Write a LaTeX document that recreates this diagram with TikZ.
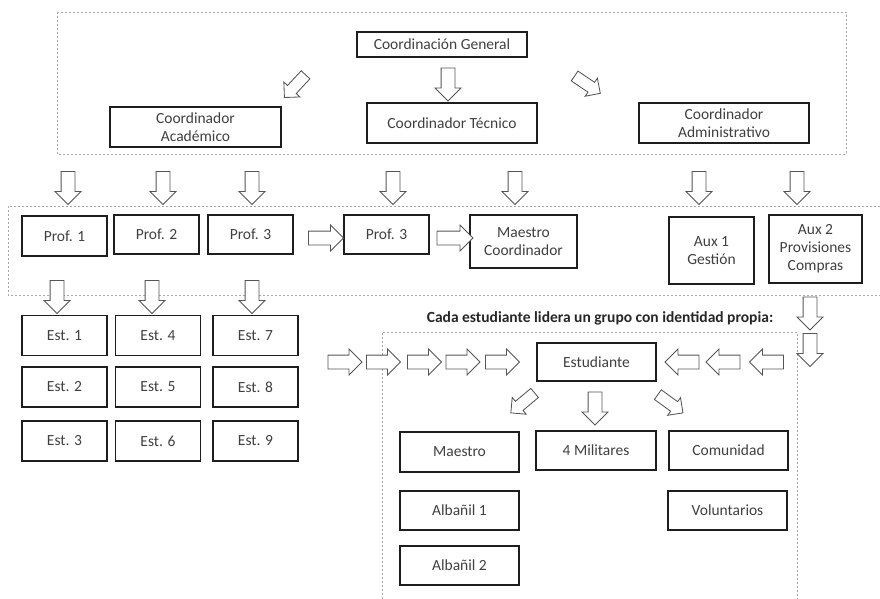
\documentclass[tikz,border=0pt]{standalone}
\usepackage{fontspec}
\setmainfont{Carlito}
\usetikzlibrary{shapes.arrows}
\definecolor{txt}{HTML}{404040}
\definecolor{edge}{HTML}{1E1E1E}
\definecolor{dash}{HTML}{A8A8A8}
\definecolor{arrc}{HTML}{555555}
\begin{document}
\begin{tikzpicture}[x=1pt,y=-1pt,
  box/.style={draw=edge, line width=1.4pt, fill=white, text=txt, align=center,
    font=\fontsize{15.5}{18}\selectfont, inner sep=0pt},
  arr/.style={single arrow, draw=arrc, line width=0.85pt, fill=white,
    inner xsep=0pt, inner ysep=6.5pt, single arrow head extend=6pt,
    minimum height=33pt, outer sep=0pt},
  darr/.style={arr, minimum height=31pt, inner ysep=5.5pt, single arrow head extend=5pt},
  grp/.style={draw=dash, line width=0.7pt, dash pattern=on 2pt off 2pt}
]
\useasboundingbox (0,0) rectangle (880,599);
% group frames
\draw[grp] (57,12) rectangle (846,154);
\draw[grp] (880,206) -- (8,206) -- (8,295) -- (880,295);
\draw[grp] (382,599) -- (382,332) -- (797,332) -- (797,599);

% top level
\node[box, minimum width=170pt, minimum height=25pt] (cg) at (442,44.5) {Coordinación General};
\node[box, minimum width=171pt, minimum height=40pt] (ca) at (195.5,127) {Coordinador\\Académico};
\node[box, minimum width=170pt, minimum height=40pt] (ct) at (452,123) {Coordinador Técnico};
\node[box, minimum width=170pt, minimum height=40pt] (cad) at (724,123) {Coordinador\\Administrativo};

\node[darr, rotate=-133] (a1) at (297,84) {};
\node[arr, rotate=-90] (a2) at (448,81) {};
\node[darr, rotate=-34] (a3) at (585,83) {};

% row 2 arrows
\foreach \x [count=\i] in {68,163,252,393,515,699,797}
  \node[arr, rotate=-90] (d\i) at (\x,184.5) {};

% professors row
\node[box, minimum width=85pt, minimum height=40pt] (p1) at (64.5,236) {Prof. 1};
\node[box, minimum width=85pt, minimum height=39pt] (p2) at (156.5,234.5) {Prof. 2};
\node[box, minimum width=85pt, minimum height=39pt] (p3) at (250.5,234.5) {Prof. 3};
\node[box, minimum width=85pt, minimum height=39pt] (p3b) at (386.5,234.5) {Prof. 3};
\node[box, minimum width=107pt, minimum height=53pt] (mc) at (523.5,241.5) {Maestro\\Coordinador};
\node[box, minimum width=85pt, minimum height=67pt] (aux1) at (711.5,250.5) {Aux 1\\Gestión};
\node[box, minimum width=93pt, minimum height=68pt] (aux2) at (815.5,249) {Aux 2\\Provisiones\\Compras};

\node[arr, minimum height=35pt] (r1) at (322.5,238) {};
\node[arr, minimum height=36pt] (r2) at (451.5,238) {};

% arrows below professors
\foreach \x [count=\i] in {57,152,252}
  \node[arr, rotate=-90] (e\i) at (\x,293.5) {};

% students
\foreach \x [count=\j] in {64.5,158,255.5}{
  \foreach \y [count=\k] in {335.5,387,441}{
    \pgfmathtruncatemacro{\num}{(\j-1)*3+\k}
    \node[box, minimum width=85pt, minimum height=40pt] (s\num) at (\x,\y) {Est. \num};
  }
}

% title
\node[text=black!85, font=\fontsize{15.5}{18}\selectfont\bfseries] (title) at (600,318) {Cada estudiante lidera un grupo con identidad propia:};

% right arrows into student group
\foreach \x [count=\i] in {341.5,380,421,459.5,499}
  \node[arr, minimum height=34pt] (f\i) at (\x,362) {};
% left arrows
\foreach \x [count=\i] in {685.5,726.5,770}
  \node[arr, rotate=180, minimum height=34pt] (g\i) at (\x,362) {};
% down arrows at right
\node[arr, rotate=-90] (h1) at (810,310) {};
\node[arr, rotate=-90] (h2) at (810,346.5) {};

% student group
\node[box, minimum width=119pt, minimum height=38pt] (est) at (596.5,362) {Estudiante};
\node[darr, rotate=-140] (k1) at (525,401) {};
\node[arr, rotate=-90] (k2) at (595,405) {};
\node[darr, rotate=-36] (k3) at (668,402) {};

\node[box, minimum width=119pt, minimum height=40pt] (mae) at (459.5,452) {Maestro};
\node[box, minimum width=120pt, minimum height=39pt] (mil) at (596,450.5) {4 Militares};
\node[box, minimum width=119pt, minimum height=39pt] (com) at (728.5,450.5) {Comunidad};
\node[box, minimum width=119pt, minimum height=39pt] (alb1) at (459.5,510.5) {Albañil 1};
\node[box, minimum width=119pt, minimum height=39pt] (vol) at (727.5,510.5) {Voluntarios};
\node[box, minimum width=119pt, minimum height=39pt] (alb2) at (459.5,565.5) {Albañil 2};
\end{tikzpicture}
\end{document}
